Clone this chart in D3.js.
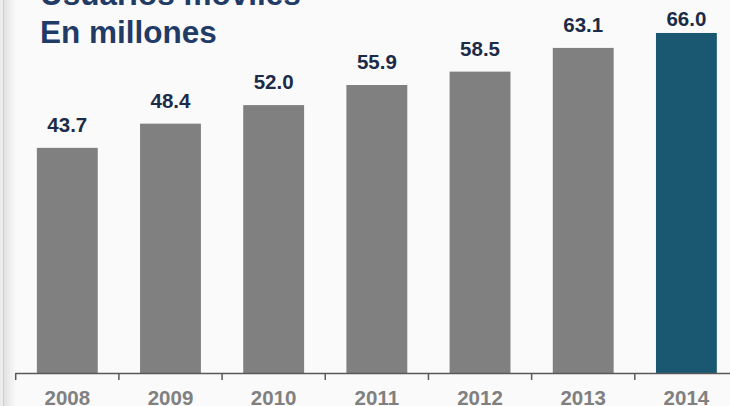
<!DOCTYPE html>
<html>
<head>
<meta charset="utf-8">
<script src="https://cdn.jsdelivr.net/npm/d3@7"></script>
<style>
  html, body { margin: 0; padding: 0; background: #fafafa; }
  svg { display: block; }
</style>
</head>
<body>
<svg id="chart" width="730" height="406"></svg>
<script>
const years = ['2008', '2009', '2010', '2011', '2012', '2013', '2014'];
const users = [43.7, 48.4, 52.0, 55.9, 58.5, 63.1, 66.0];
const titleLines = ['Usuarios móviles', 'En millones'];

const svg = d3.select('#chart');
const width = 730, height = 406;
const baseY = 373;

// left page edge shadow
const defs = svg.append('defs');
const grad = defs.append('linearGradient').attr('id', 'edge');
grad.append('stop').attr('offset', '0%').attr('stop-color', '#e2e2e2');
grad.append('stop').attr('offset', '100%').attr('stop-color', '#fafafa');
svg.append('rect').attr('x', 0).attr('y', 0).attr('width', width).attr('height', height).attr('fill', '#fafafa');
svg.append('rect').attr('x', 0).attr('y', 0).attr('width', 3).attr('height', height).attr('fill', '#ececec');
svg.append('rect').attr('x', 4).attr('y', 0).attr('width', 12).attr('height', height).attr('fill', 'url(#edge)');
svg.append('line').attr('x1', 3.5).attr('x2', 3.5).attr('y1', 0).attr('y2', height)
    .attr('stroke', '#cfcfcf').attr('stroke-width', 1);

const x = d3.scaleBand()
    .domain(years)
    .range([15.7, 738])
    .paddingInner(0.41)
    .paddingOuter(0.205);

const y = d3.scaleLinear()
    .domain([0, 72.4])
    .range([baseY, 0]);

// title
svg.append('g')
    .selectAll('text')
    .data(titleLines)
    .enter()
    .append('text')
    .attr('x', 40)
    .attr('y', (d, i) => 5 + i * 38)
    .attr('font-family', 'Liberation Sans, Arial, sans-serif')
    .attr('font-weight', 'bold')
    .attr('font-size', 31.5)
    .attr('fill', '#1f3b66')
    .text(d => d);

// bars
svg.append('g')
    .selectAll('rect')
    .data(users)
    .enter()
    .append('rect')
    .attr('x', (d, i) => x(years[i]))
    .attr('y', d => y(d))
    .attr('width', x.bandwidth())
    .attr('height', d => baseY - y(d))
    .attr('fill', (d, i) => i === users.length - 1 ? '#1a5872' : '#808080');

// value labels
svg.append('g')
    .selectAll('text')
    .data(users)
    .enter()
    .append('text')
    .attr('x', (d, i) => x(years[i]) + x.bandwidth() / 2)
    .attr('y', d => Math.max(y(d) - 16, 26))
    .attr('text-anchor', 'middle')
    .attr('font-family', 'Liberation Sans, Arial, sans-serif')
    .attr('font-weight', 'bold')
    .attr('font-size', 20.5)
    .attr('fill', '#1b2b48')
    .text(d => d.toFixed(1));

// axis with ticks at band boundaries
const axis = svg.append('g');
const step = x.step();
const edges = years.map(d => x(d) - step * x.paddingOuter());
axis.append('line')
    .attr('x1', edges[0]).attr('x2', width)
    .attr('y1', baseY + 0.5).attr('y2', baseY + 0.5)
    .attr('stroke', '#595959').attr('stroke-width', 1.5);
axis.selectAll('.tick')
    .data(edges)
    .enter()
    .append('line')
    .attr('class', 'tick')
    .attr('x1', d => d).attr('x2', d => d)
    .attr('y1', baseY).attr('y2', baseY + 7)
    .attr('stroke', '#595959').attr('stroke-width', 1.5);
axis.selectAll('text')
    .data(years)
    .enter()
    .append('text')
    .attr('x', d => x(d) + x.bandwidth() / 2)
    .attr('y', 404.5)
    .attr('text-anchor', 'middle')
    .attr('font-family', 'Liberation Sans, Arial, sans-serif')
    .attr('font-weight', 'bold')
    .attr('font-size', 20.5)
    .attr('fill', '#808080')
    .text(d => d);
</script>
</body>
</html>
